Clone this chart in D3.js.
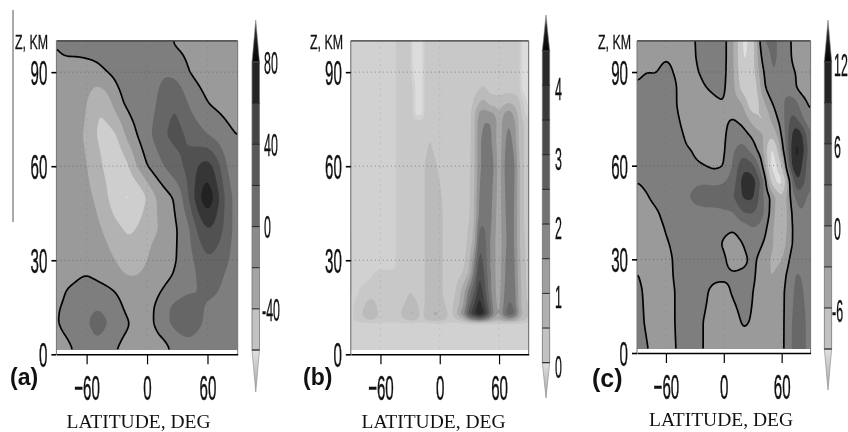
<!DOCTYPE html>
<html><head><meta charset="utf-8">
<script src="https://cdn.jsdelivr.net/npm/d3@7"></script>
<style>
html,body{margin:0;padding:0;background:#fff}
svg{display:block;filter:blur(.45px)}
text{font-family:"Liberation Sans",Arial,sans-serif;fill:#111}
</style></head><body>
<svg id="c" width="848" height="432"></svg>
<script>
// ---------- Panel (a)
const latA=[-90,-80,-70,-60,-50,-40,-30,-20,-10,0,10,20,30,40,50,60,70,80,90];
const altA=[0,5,10,15,20,25,30,40,50,60,70,80,90,100];
const valuesA=[
[-6,-4,0,4,6,2,-2,-6,-6,-8,-7,-4,0,8,8,6,5,3,2],
[-4,-1,5,12,21,14,3,-3,-5,-6,-3,1,14,20,16,12,10,6,3],
[-2,5,12,18,28,22,10,2,-5,-4,2,18,30,34,24,16,12,8,4],
[-2,3,8,14,20,15,6,-4,-8,-5,2,18,27,32,26,17,12,8,4],
[-6,1,4,8,8,5,-1,-9,-12,-9,-3,5,12,18,19,26,21,12,5],
[-6,-5,-2,1,-3,-8,-14,-20,-20,-15,-10,-3,3,12,21,30,26,16,8],
[-8,-8,-8,-8,-10,-14,-21,-30,-28,-20,-13,-6,0,12,24,38,32,22,8],
[-10,-10,-11,-13,-16,-24,-34,-44,-40,-24,-22,-11,0,12,44,62,52,30,8],
[-11,-11,-13,-16,-22,-36,-60,-62,-62,-38,-18,-6,4,36,72,100,68,28,10],
[-12,-13,-15,-18,-32,-46,-58,-46,-18,0,12,24,36,44,60,72,48,16,6],
[-12,-14,-16,-22,-42,-48,-42,-14,0,14,28,42,46,38,28,20,12,4,-1],
[-10,-10,-12,-18,-41,-32,-8,4,10,12,20,36,40,20,8,0,-4,-7,-9],
[-3,-6,-8,-8,-6,0,6,10,12,14,16,18,14,1,-5,-8,-10,-12,-13],
[0,6,8,10,12,14,15,16,16,16,14,5,-5,-6,-9,-10,-12,-14,-15]];
const levelsA=[-60,-40,-20,0,20,40,60,80];
const fillsA=["#e0e0e0","#cecece","#b2b2b2","#9a9a9a","#7e7e7e","#666666","#515151","#363636","#222222"];
const barA=["#c2c2c2","#a4a4a4","#8a8a8a","#6c6c6c","#585858","#444444","#242424"];
const barLabelsA=["80","40","0","-40"];
// ---------- Panel (b)
const latB=[-90,-87,-80,-70,-60,-50,-45,-44,-29,-28,-24,-18,-15,-10,-5,0,5,10,15,20,25,30,35,40,45,50,55,60,65,70,75,81,83,90];
const altB=[0,9.5,11,13,16,20,26,28,36,44,60,68,74,77,80,85,92,100];
const valuesB=[
[-.25,-.25,-.25,-.25,-.25,-.25,-.25,-.25,-.25,-.25,-.25,-.25,-.25,-.25,-.25,-.25,-.25,-.25,-.25,-.25,-.25,-.25,-.25,-.25,-.25,-.25,-.25,-.25,-.25,-.25,-.25,-.25,-.25,-.25],
[-.25,-.25,-.25,-.25,-.25,-.25,-.25,-.25,-.25,-.25,-.25,-.25,-.25,-.25,-.25,-.25,-.25,-.25,-.25,-.25,-.25,-.25,-.25,-.25,-.25,-.25,-.25,-.25,-.25,-.25,-.25,-.25,-.25,-.25],
[-.25,.05,.3,.6,.35,.25,.25,.25,.7,.75,.6,.25,.55,.7,.85,.75,.6,.25,.4,.5,1,1.6,2.1,2.3,2.1,1.6,1.2,1,1.4,1.6,1.4,.8,.7,.3],
[-.25,.1,.45,.9,.4,.25,.25,.25,1.1,1.15,.8,.3,.7,.9,1.1,1,.8,.3,.7,1.4,2,3.4,4,4.6,4.1,3,1.8,1.4,2.3,2.9,2.7,1.4,1,.5],
[-.25,.02,.3,.75,.3,.25,.25,.25,.7,.7,.6,.25,.55,.75,.75,.75,.5,.25,.6,1,1.6,2.8,3.5,4.3,3.6,2.7,1.7,1.3,2.1,2.6,2.4,1.2,.9,.4],
[.25,-.25,.1,.25,.25,.25,.25,.25,.5,.5,.3,.25,.55,.75,.75,.7,.35,.25,.4,.9,1.4,2.3,3,3.9,3.3,2.3,1.6,1.3,2,2.4,2.3,1.2,.9,.3],
[.25,-.25,-.25,-.1,.25,.25,.25,.25,.25,.25,.25,.25,.55,.75,.75,.7,.35,.25,.25,.35,.6,1.1,2.3,3.5,3,2.2,1.6,1.2,1.9,2.3,2.2,1.1,.8,.3],
[.25,-.25,-.25,-.25,-.25,-.25,-.25,.25,.25,.25,.25,.25,.55,.75,.75,.7,.35,.25,.25,.3,.5,1,2.1,3.4,2.9,2.1,1.6,1.2,1.9,2.3,2.2,1.1,.8,.3],
[.25,-.25,-.25,-.25,-.25,-.25,-.25,.25,.25,.25,.25,.25,.55,.75,.75,.7,.35,.25,.25,.25,.3,.7,1.2,2.9,2.7,2.1,1.6,1.2,1.8,2.2,2.1,1,.7,.25],
[-.25,-.25,-.25,-.25,-.25,-.25,-.25,.25,.25,.25,.25,.25,.55,.75,.75,.75,.35,.25,.25,.25,.3,.45,1,2.2,2.4,2.3,1.7,1.2,1.9,2.2,2.1,1,.6,.25],
[-.25,-.25,-.25,-.25,-.25,-.25,-.25,.25,.25,.25,.25,.25,.55,.75,.6,.4,.25,.25,.25,.25,.25,.4,.9,1.9,2.2,2.3,2,1.2,2,2.3,2.2,1,.6,.25],
[-.25,-.25,-.25,-.25,-.25,-.25,-.25,.25,.25,.25,.25,.25,.3,.55,.3,.25,.25,.25,.25,.25,.25,.35,.9,1.9,2.2,2.2,1.8,1.1,1.9,2.2,1.9,.8,.6,.25],
[-.25,-.25,-.25,-.25,-.25,-.25,-.25,.25,.25,.25,.25,.25,.25,.25,.25,.25,.25,.25,.25,.25,.25,.3,.9,1.8,2,2,1.9,1.05,1.8,2,1.7,.8,.6,.25],
[-.25,-.25,-.25,-.25,-.25,-.25,-.25,.25,.25,.25,-.75,-.75,.25,.25,.25,.25,.25,.25,.25,.25,.25,.3,.9,1.6,1.7,1.6,1.5,1,1.5,1.7,1.4,.7,.5,-.6],
[-.25,-.25,-.25,-.25,-.25,-.25,-.25,.25,.25,.25,-.75,-.75,.25,.25,.25,.25,.25,.25,.25,.25,.25,.25,.6,1.05,1.2,.9,.8,.75,.9,1.05,.9,.6,.25,-.75],
[-.25,-.25,-.25,-.25,-.25,-.25,-.25,.25,.25,.25,-.75,-.75,.25,.25,.25,.25,.25,.25,.25,.25,.25,.25,.3,.45,.55,.3,.25,.25,.25,.25,.25,.25,-.75,-.75],
[-.25,-.25,-.25,-.25,-.25,-.25,-.25,.25,.25,-.75,-.75,-.75,.25,.25,.25,.25,.25,.25,.25,.25,.25,.25,.25,.25,.25,.25,.25,.25,.25,.25,.25,.25,-.75,-.75],
[-.25,-.25,-.25,-.25,-.25,-.25,-.25,.25,.25,-.75,-.75,-.75,.25,.25,.25,.25,.25,.25,.25,.25,.25,.25,.25,.25,.25,.25,.25,.25,.25,.25,.25,.25,-.75,-.75]];
const levelsB=[-.5,0,.5,1,1.5,2,2.5,3,3.5,4,4.5];
const fillsB=["#dcdcdc","#d1d1d1","#c8c8c8","#bbbbbb","#a9a9a9","#939393","#777777","#666666","#525252","#3e3e3e","#2a2a2a","#1a1a1a"];
const barLevelsB=[0,.5,1,1.5,2,2.5,3,3.5,4,4.5];
const barB=["#c2c2c2","#b0b0b0","#9e9e9e","#868686","#727272","#5e5e5e","#4a4a4a","#3a3a3a","#2a2a2a"];
const barLabelsB=["4","3","2","1","0"];
// ---------- Panel (c)
const latC=[-90,-80,-70,-60,-50,-40,-35,-30,-20,-10,0,10,20,30,40,50,60,70,75,80,90];
const altC=[0,10,20,25,30,35,40,45,50,55,60,65,70,75,80,85,90,95,100];
const valuesC=[
[1.5,.2,-.8,-.8,0,.5,.6,.6,-.1,-.8,-1,-1,-.8,-.8,-1,-1.2,-1,3,4.5,4.5,1.5],
[1,-.4,-.8,-.8,.1,.5,.6,.6,-.1,-.8,-1,-.7,.25,-.15,-1,-1.2,-1,2.8,4.5,4.5,1.5],
[.6,-.5,-1,-.8,.1,.6,.7,.8,.4,-.6,-.6,.3,.8,.1,-1.2,-2.4,-.8,2,4,3.6,1.2],
[.2,-.8,-1,-.8,.3,.8,.9,1,1,.6,.4,.3,.6,.6,-1.5,-3.4,-1.5,1.8,3.5,3,1.2],
[-.5,-1,-1.2,-.8,.4,.8,.9,1,1,.7,.4,-1.2,-.8,.8,-1.2,-3.5,-3.5,1,1.5,1.5,1],
[-1,-1,-1,-.3,.6,1,1.1,1.2,1.2,.8,-.3,-1,0,1.5,.2,-2.8,-5,-.1,1,1.2,1],
[-1.2,-1.2,-.9,.2,1,1.2,1.3,1.4,1.5,1,.5,.2,1.2,3,2,-2.5,-6.2,-.1,1,1.5,1],
[-1.2,-1,-.3,.8,1.2,1.8,2,2.2,2.5,2.5,2.6,2.8,6.2,6.3,4,-1.5,-6.5,0,1.8,3,1.5],
[-.8,-.2,.7,1.4,2,2.8,3,3.8,4,4,4.4,6,9.5,10,3.5,-1,-6.5,.8,4,4.5,2],
[0,.5,1,1.5,1.8,2,2.2,2.6,2.8,2.6,2.7,4.5,10.5,11,4.5,-8,-11,2,9.5,8,3],
[1.8,1.8,1.8,1.8,1.5,1.2,.9,.5,0,-.8,-.1,3.5,8.5,7,.4,-11,-7,9,13,9.5,3],
[1.5,1.5,1.5,1.5,1.5,.8,.2,-.5,-1.2,-1,-.5,2.8,4.6,1.5,-2,-11,-2,9.5,13.5,11.5,3.5],
[1.2,1.4,1.4,1.4,1,-.1,-2.8,-1.5,-1.2,-1,-.5,1.5,1.2,-.8,-2.7,-5.8,.2,8.5,12,10,2.5],
[1,1.2,1.2,1.2,.8,-1.2,-3.2,-2,-1.2,-.8,-.4,.1,-1,-4.5,-7,-2,1.5,7,6.5,4,.2],
[.8,1,1,1.2,.6,-3.1,-3.3,-2,-1,-.4,0,-1.5,-3,-9.5,-4,0,2.5,4.5,4,1.5,-.8],
[.3,.8,.8,1,.4,-2.2,-3.2,-1.5,-.1,.4,.5,-2.2,-8,-9.5,-1.2,2.5,3,1.5,0,-1.3,-1.5],
[-.5,0,-.1,.8,-.3,-1,-1,-.5,.8,1.5,.8,-2.5,-9.2,-7.5,-.5,3.3,2.2,.4,-.1,-.7,-1.5],
[-1.5,-1,-.8,-.2,-.6,-1,-.7,-.2,1.5,1.8,1,-2.7,-9.8,-7.5,1.2,3.5,2.5,-.1,-.9,-1.5,-2],
[-1.5,-1.5,-1.5,-1.5,-1.5,-1,-.6,-.1,1.5,1.8,1,-2.7,-10,-8,3,3.5,2.5,-.2,-1,-1.5,-2]];
const levelsC=[-9,-6,-3,0,3,6,9,12];
const fillsC=["#e0e0e0","#cacaca","#b0b0b0","#9a9a9a","#7e7e7e","#686868","#525252","#2f2f2f","#232323"];
const barC=["#c2c2c2","#a4a4a4","#8a8a8a","#6c6c6c","#585858","#444444","#242424"];
const barLabelsC=["12","6","0","-6"];
// ---------- Shared axis labels
const altTicks=[0,30,60,90];
const latTicks=[-60,0,60];
const xTitle="LATITUDE, DEG";
const yTitle="Z, KM";

const panels=[
 {lat:latA,alt:altA,vals:valuesA,levels:levelsA,fills:fillsA,bar:barA,barLv:levelsA,barLabels:barLabelsA,barVals:[80,40,0,-40],
  x0:56.4,x1:237.7,y0:354.3,yTop:40.8,zBot:1.4,blur:3,zero:true,name:"(a)",nameX:10,nameY:385,nameS:23,yT:15,
  bx:252,bw:7.5,bTop:62,bBot:350,tipTop:20,tipBot:392,lblX:264,lblDy:1,titleX:138.5,titleY:428,frame:"#777"},
 {lat:latB,alt:altB,vals:valuesB,levels:levelsB,fills:fillsB,bar:barB,barLv:barLevelsB,barLabels:barLabelsB,barVals:[4,3,2,1,0],
  x0:350.8,x1:528.7,y0:354.3,yTop:40.8,zBot:1.4,blur:1,zero:false,name:"(b)",nameX:303,nameY:385,nameS:23,yT:310,
  bx:542.3,bw:7.4,bTop:50.7,bBot:362.7,tipTop:15,tipBot:398,lblX:555,lblDy:4,titleX:433.5,titleY:428,frame:"#666"},
 {lat:latC,alt:altC,vals:valuesC,levels:levelsC,fills:fillsC,bar:barC,barLv:levelsC,barLabels:barLabelsC,barVals:[12,6,0,-6],
  x0:637,x1:810.6,y0:353,yTop:40.8,zBot:1.3,blur:2,zero:true,name:"(c)",nameX:592,nameY:387,nameS:25,yT:598,
  bx:824.3,bw:7.4,bTop:61.7,bBot:349,tipTop:20,tipBot:390,lblX:834,lblDy:3,titleX:721,titleY:426,frame:"#777"}
];
const svg=d3.select("#c");
const defs=svg.append("defs");
const gTop=defs.append("linearGradient").attr("id","gt").attr("x1",0).attr("x2",0).attr("y1",0).attr("y2",1);
gTop.append("stop").attr("offset",0).attr("stop-color","#333");
gTop.append("stop").attr("offset",1).attr("stop-color","#050505");
const gBot=defs.append("linearGradient").attr("id","gb").attr("x1",0).attr("x2",0).attr("y1",0).attr("y2",1);
gBot.append("stop").attr("offset",0).attr("stop-color","#e0e0e0");
gBot.append("stop").attr("offset",1).attr("stop-color","#a8a8a8");

svg.append("line").attr("x1",13).attr("x2",13).attr("y1",10).attr("y2",222).attr("stroke","#555").attr("stroke-width",1);

function interp(arr,v){ // locate v on a non-uniform axis
  let i=Math.min(arr.length-2,Math.max(0,d3.bisectRight(arr,v)-1));
  return [i,(v-arr[i])/(arr[i+1]-arr[i])];
}
panels.forEach(p=>{
  const x=d3.scaleLinear().domain([-90,90]).range([p.x0,p.x1]);
  const y=d3.scaleLinear().domain([0,100]).range([p.y0,p.yTop]);
  const nx=Math.round(p.x1-p.x0), ny=Math.round(y(p.zBot)-p.yTop);
  const data=new Float64Array(nx*ny);
  for(let j=0;j<ny;j++){
    const z=p.zBot+(j+.5)/ny*(100-p.zBot); const [r,fr]=interp(p.alt,z);
    for(let i=0;i<nx;i++){
      const la=-90+(i+.5)/nx*180; const [c,fc]=interp(p.lat,la);
      const v=p.vals[r][c]*(1-fr)*(1-fc)+p.vals[r][c+1]*(1-fr)*fc+p.vals[r+1][c]*fr*(1-fc)+p.vals[r+1][c+1]*fr*fc;
      data[j*nx+i]=v;
    }
  }
  if(p.blur&&d3.blur2) d3.blur2({data,width:nx,height:ny},p.blur);
  const px=u=>x(-90+u/nx*180), py=v=>y(p.zBot+v/ny*(100-p.zBot));
  const path=d3.geoPath(d3.geoTransform({point(a,b){this.stream.point(px(a),py(b));}}));
  const cont=d3.contours().size([nx,ny]).thresholds(p.levels);
  const polys=cont(data);
  const g=svg.append("g");
  g.append("rect").attr("x",p.x0).attr("y",p.yTop).attr("width",p.x1-p.x0).attr("height",y(p.zBot)-p.yTop).attr("fill",p.fills[0]);
  g.selectAll("path.f").data(polys).join("path").attr("class","f").attr("d",path)
    .attr("fill",(d,i)=>p.fills[i+1]);
  // thick zero contour
  if(p.zero){
    const zc=polys[p.levels.indexOf(0)];
    const line=d3.line().defined(q=>q[0]>0&&q[0]<nx&&q[1]>0&&q[1]<ny).x(q=>px(q[0])).y(q=>py(q[1]));
    zc.coordinates.forEach(poly=>poly.forEach(ring=>{
      g.append("path").attr("d",line(ring)).attr("fill","none").attr("stroke","#000").attr("stroke-width",1.7).attr("stroke-linejoin","round");
    }));
  }
  // dotted grid
  altTicks.slice(1).forEach(t=>g.append("line").attr("x1",p.x0).attr("x2",p.x1).attr("y1",y(t)).attr("y2",y(t))
    .attr("stroke","#444").attr("stroke-opacity",.5).attr("stroke-dasharray","1 3"));
  latTicks.forEach(t=>g.append("line").attr("x1",x(t)).attr("x2",x(t)).attr("y1",p.yTop).attr("y2",y(p.zBot))
    .attr("stroke","#444").attr("stroke-opacity",.22).attr("stroke-dasharray","1 5"));
  // frame
  g.append("line").attr("x1",p.x0).attr("x2",p.x1).attr("y1",p.yTop).attr("y2",p.yTop).attr("stroke","#333").attr("stroke-width",1.3);
  g.append("line").attr("x1",p.x0).attr("x2",p.x0).attr("y1",p.yTop).attr("y2",p.y0).attr("stroke",p.frame);
  g.append("line").attr("x1",p.x1).attr("x2",p.x1).attr("y1",p.yTop).attr("y2",p.y0).attr("stroke",p.frame);
  // axes
  const ax=svg.append("g").attr("transform",`translate(0,${p.y0})`)
    .call(d3.axisBottom(x).tickValues(latTicks).tickSize(10).tickSizeOuter(0).tickFormat(d=>d<0?"\u2212"+(-d):d));
  ax.select(".domain").attr("stroke","#000").attr("stroke-width",1.5);
  ax.selectAll(".tick line").attr("stroke","#000").attr("stroke-width",1.2);
  ax.selectAll(".tick text").attr("y",0).attr("dy",0).attr("font-size",36).attr("font-family",'"Liberation Sans"').attr("fill","#111")
    .attr("stroke","#111").attr("stroke-width",.5).attr("transform","translate(0,46) scale(.42,1)");
  const ay=svg.append("g").attr("transform",`translate(${p.x0},0)`)
    .call(d3.axisLeft(y).tickValues(altTicks).tickSize(5).tickSizeOuter(0));
  ay.select(".domain").remove();
  ay.selectAll(".tick line").attr("stroke","#000").attr("stroke-width",1.6);
  ay.selectAll(".tick text").attr("x",0).attr("font-size",36).attr("font-family",'"Liberation Sans"').attr("fill","#111").attr("dy",".35em")
    .attr("stroke","#111").attr("stroke-width",.5).attr("transform","translate(-9,0) scale(.42,1)");
  // titles
  svg.append("text").attr("transform",`translate(${p.yT},49) scale(.62,1)`).attr("font-size",20).attr("stroke","#111").attr("stroke-width",.3).text(yTitle);
  svg.append("text").attr("x",p.nameX).attr("y",p.nameY).attr("font-size",p.nameS).attr("font-weight","bold").text(p.name);
  svg.append("text").attr("x",p.titleX).attr("y",p.titleY).attr("text-anchor","middle").attr("font-size",19.5)
    .style("font-family",'"Liberation Serif",serif').text(xTitle);
  // colour bar
  const lv=p.barLv, by=d3.scaleLinear().domain([lv[0],lv[lv.length-1]]).range([p.bBot,p.bTop]);
  const b=svg.append("g");
  p.bar.forEach((c,i)=>b.append("rect").attr("x",p.bx).attr("width",p.bw).attr("y",by(lv[i+1])).attr("height",by(lv[i])-by(lv[i+1])).attr("fill",c));
  const tri=(yb,yt,f)=>b.append("path").attr("d",`M${p.bx},${yb}L${p.bx+p.bw},${yb}L${p.bx+p.bw/2},${yt}Z`).attr("fill",f).attr("stroke","#888").attr("stroke-width",.6);
  tri(p.bTop,p.tipTop,"url(#gt)"); tri(p.bBot,p.tipBot,"url(#gb)");
  b.append("rect").attr("x",p.bx).attr("width",p.bw).attr("y",p.bTop).attr("height",p.bBot-p.bTop).attr("fill","none").attr("stroke","#777").attr("stroke-width",.8);
  lv.forEach(l=>b.append("line").attr("x1",p.bx).attr("x2",p.bx+p.bw).attr("y1",by(l)).attr("y2",by(l)).attr("stroke","#222").attr("stroke-width",1));
  p.barLabels.forEach((t,i)=>{
    b.append("text").attr("transform",`translate(${p.lblX-(t[0]==="-"?2:0)},${by(p.barVals[i])+p.lblDy}) scale(.4,1)`)
      .attr("font-size",31).attr("dy",".35em").attr("stroke","#111").attr("stroke-width",.4).text(t);
  });
});
</script></body></html>
